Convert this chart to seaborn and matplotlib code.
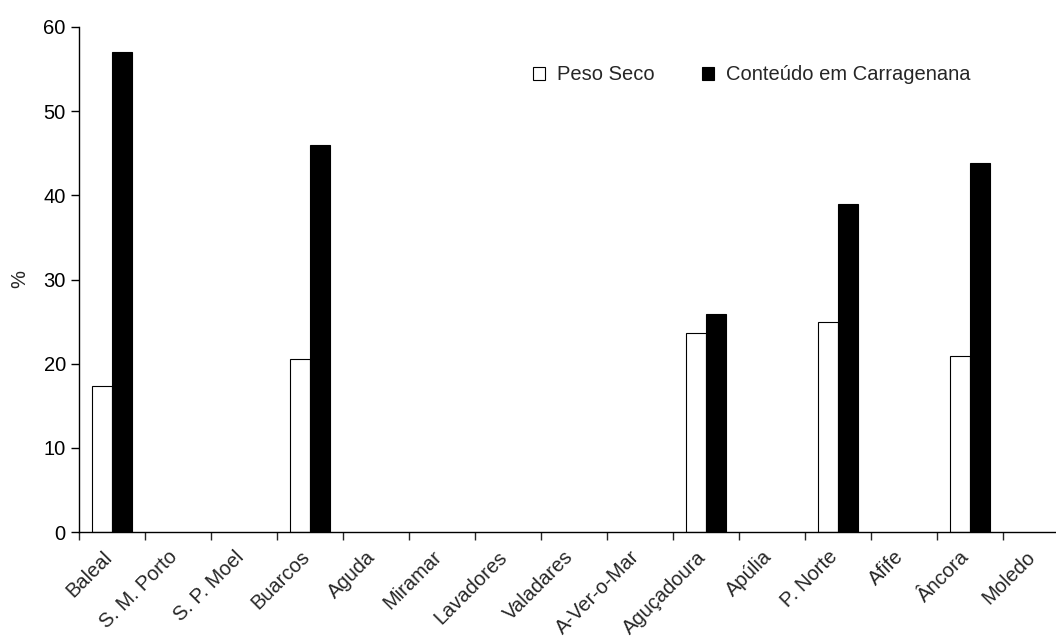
import numpy as np
import pandas as pd
import matplotlib
matplotlib.use("Agg")
import matplotlib.pyplot as plt
import matplotlib.transforms as mtransforms
import seaborn as sns

# dados
locais = ['Baleal', 'S. M. Porto', 'S. P. Moel', 'Buarcos', 'Aguda', 'Miramar',
          'Lavadores', 'Valadares', 'A-Ver-o-Mar', 'Aguçadoura', 'Apúlia',
          'P. Norte', 'Afife', 'Âncora', 'Moledo']
peso_seco = [17.3, np.nan, np.nan, 20.6, np.nan, np.nan, np.nan, np.nan, np.nan,
             23.7, np.nan, 25.0, np.nan, 20.9, np.nan]
carragenana = [57.0, np.nan, np.nan, 46.0, np.nan, np.nan, np.nan, np.nan, np.nan,
               25.9, np.nan, 39.0, np.nan, 43.9, np.nan]
series = ['Peso Seco', 'Conteúdo em Carragenana']

df = pd.DataFrame({
    'Local': locais * 2,
    'Serie': [series[0]] * len(locais) + [series[1]] * len(locais),
    'Valor': peso_seco + carragenana,
})

sns.set_style('ticks')
plt.rcParams['font.family'] = ['Liberation Sans', 'DejaVu Sans']

fig = plt.figure(figsize=(10.56, 6.42), dpi=100)
ax = fig.add_axes([79 / 1056, 1 - 532 / 642, 990 / 1056, 505 / 642])

sns.barplot(data=df, x='Local', y='Valor', hue='Serie', order=locais,
            hue_order=series, palette=['white', 'black'], edgecolor='black',
            linewidth=0.8, width=0.6, errorbar=None, ax=ax)

ax.set_xlim(-0.5, 14.5)
ax.set_ylim(0, 60)
ax.set_yticks(range(0, 61, 10))
ax.set_xticks(np.arange(-0.5, 15, 1), minor=True)
ax.tick_params(axis='x', which='major', length=0, pad=11)
ax.tick_params(axis='x', which='minor', length=6, width=1, direction='out')
ax.tick_params(axis='y', length=6, width=1, labelsize=14.5, colors='black')
ax.set_xticks(range(len(locais)))
ax.set_xticklabels(locais, rotation=45, ha='right', rotation_mode='anchor', fontsize=14.5)
shift = mtransforms.ScaledTranslation(-10 / 100, 0, fig.dpi_scale_trans)
for lbl in ax.get_xticklabels():
    lbl.set_transform(lbl.get_transform() + shift)
ax.set_xlabel('')
ax.set_ylabel('%', fontsize=14.5, labelpad=10)
sns.despine(ax=ax)
for s in ['left', 'bottom']:
    ax.spines[s].set_linewidth(1)
    ax.spines[s].set_color('black')

ax.legend(ncol=2, frameon=False, fontsize=14.5, loc='upper left',
          bbox_to_anchor=(0.45, 0.94), handlelength=0.6, handleheight=0.6,
          handletextpad=0.6, columnspacing=2.35, borderaxespad=0)

fig.savefig('out.png', dpi=100)
